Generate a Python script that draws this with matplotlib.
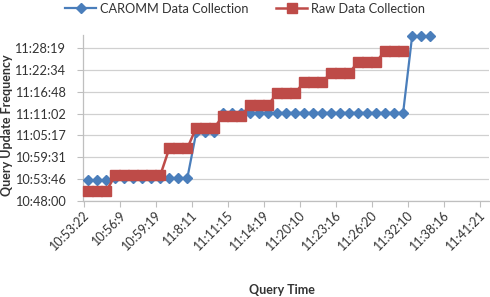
import matplotlib
matplotlib.use("Agg")
import matplotlib.pyplot as plt

plt.rcParams['font.family'] = ['Lato', 'DejaVu Sans']

# query number (category) 1..45, labels shown on every 4th one
n_queries = 45
xlabels = ["10:53:22", "10:56:9", "10:59:19", "11:8:11", "11:11:15", "11:14:19",
           "11:20:10", "11:23:16", "11:26:20", "11:32:10", "11:38:16", "11:41:21"]

ylabels = ["10:48:00", "10:53:46", "10:59:31", "11:05:17",
           "11:11:02", "11:16:48", "11:22:34", "11:28:19"]

# CAROMM data collection (queries 1..39)
caromm = ["10:53:22", "10:53:22", "10:53:22",
          "10:54:00", "10:54:00", "10:54:00", "10:54:00", "10:54:00", "10:54:00",
          "10:54:00", "10:54:00", "10:54:00",
          "11:06:10", "11:06:10", "11:06:10",
          "11:11:15", "11:11:15", "11:11:15", "11:11:15", "11:11:15", "11:11:15",
          "11:11:15", "11:11:15", "11:11:15", "11:11:15", "11:11:15", "11:11:15",
          "11:11:15", "11:11:15", "11:11:15", "11:11:15", "11:11:15", "11:11:15",
          "11:11:15", "11:11:15", "11:11:15",
          "11:31:30", "11:31:30", "11:31:30"]

# raw data collection (queries 1..36)
raw = ["10:50:37", "10:50:37", "10:50:37",
       "10:54:47", "10:54:47", "10:54:47", "10:54:47", "10:54:47", "10:54:47",
       "11:01:55", "11:01:55", "11:01:55",
       "11:07:20", "11:07:20", "11:07:20",
       "11:10:32", "11:10:32", "11:10:32",
       "11:13:21", "11:13:21", "11:13:21",
       "11:16:30", "11:16:30", "11:16:30",
       "11:19:26", "11:19:26", "11:19:26",
       "11:21:47", "11:21:47", "11:21:47",
       "11:24:43", "11:24:43", "11:24:43",
       "11:27:40", "11:27:40", "11:27:40"]


def secs(t):
    h, m, s = [int(v) for v in t.split(":")]
    return h * 3600 + m * 60 + s


blue = "#4A7EBB"
red = "#BE4B48"
txt = "#333333"

fig = plt.figure(figsize=(4.9, 2.97), dpi=100)
ax = fig.add_axes([0.1704, 0.3242, 0.8266, 0.558])

x1 = list(range(1, len(caromm) + 1))
x2 = list(range(1, len(raw) + 1))
ax.plot(x1, [secs(t) for t in caromm], color=blue, lw=1.6, marker="D", ms=4.6,
        label="CAROMM Data Collection", clip_on=False, zorder=3)
ax.plot(x2, [secs(t) for t in raw], color=red, lw=1.8, marker="s", ms=7.6,
        label="Raw Data Collection", clip_on=False, zorder=4)

ax.set_xlim(0.5, n_queries + 0.5)
ax.set_ylim(secs("10:48:00"), secs("11:31:50"))

# tick marks between categories, labels on every 4th category
# (label anchor nudged a bit left so the rotated text ends near the category)
ax.set_xticks([0.5 + 4 * i for i in range(12)])
ax.set_xticklabels([])
ax.set_xticks([1 + 4 * i - 0.55 for i in range(12)], minor=True)
ax.set_xticklabels(xlabels, minor=True, rotation=45, ha="right", va="top",
                   rotation_mode="anchor", fontsize=9, color=txt)
ax.tick_params(axis="x", which="major", length=4, color="#BFBFBF")
ax.tick_params(axis="x", which="minor", length=0, pad=6)

ax.set_yticks([secs(t) for t in ylabels])
ax.set_yticklabels(ylabels, fontsize=9.2, color=txt)
ax.tick_params(axis="y", length=4, color="#BFBFBF", pad=9)

ax.grid(axis="y", color="#D0D0D0", lw=0.9)
ax.set_axisbelow(True)
for s in ["top", "right"]:
    ax.spines[s].set_visible(False)
for s in ["left", "bottom"]:
    ax.spines[s].set_color("#BFBFBF")
    ax.spines[s].set_linewidth(0.9)

ax.set_xlabel("Query Time", fontsize=9, fontweight="bold", color=txt)
ax.xaxis.set_label_coords(0.49, -0.5)
ax.set_ylabel("Query Update Frequency", fontsize=9, fontweight="bold", color=txt)
ax.yaxis.set_label_coords(-0.175, 0.455)

fig.legend(loc="upper center", bbox_to_anchor=(0.5, 1.03), ncol=2, frameon=False,
           fontsize=9.2, handlelength=2.4, columnspacing=2.2, handletextpad=0.3,
           labelcolor=txt)

fig.savefig("out.png", dpi=100)
